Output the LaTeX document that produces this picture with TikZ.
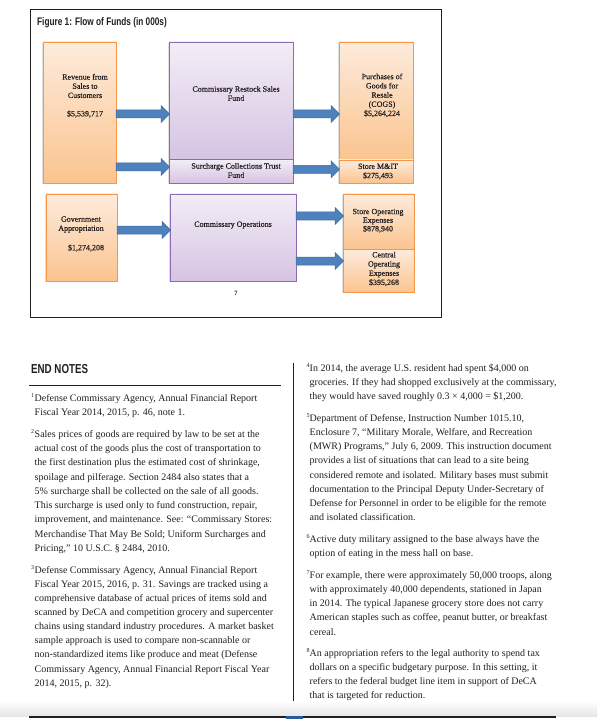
\documentclass[tikz,border=0pt]{standalone}
\usepackage{fontspec}
\setmainfont{Liberation Serif}
\newfontfamily\condfont[FakeStretch=0.75]{Liberation Sans}
\newfontfamily\boxfont[FakeBold=0.5]{Liberation Serif}
\usetikzlibrary{calc,shadows}
\definecolor{ink}{HTML}{231F20}
\definecolor{oborder}{HTML}{F79646}
\definecolor{otop}{HTML}{FDEBDC}
\definecolor{obot}{HTML}{FBC48F}
\definecolor{pborder}{HTML}{8E6AB4}
\definecolor{ptop}{HTML}{F3EDF7}
\definecolor{pbot}{HTML}{D6C4E2}
\definecolor{afill}{HTML}{4F81BD}
\definecolor{aborder}{HTML}{3A6CA3}
\definecolor{markblue}{HTML}{2A5A9A}
\tikzset{
  basebox/.style={anchor=north west, inner sep=0pt, outer sep=0pt, line width=0.8pt,
    drop shadow={shadow xshift=-0.6pt, shadow yshift=-0.6pt, fill=black, opacity=0.12}},
  obox/.style={basebox, draw=oborder, top color=otop, bottom color=obot},
  pbox/.style={basebox, draw=pborder, top color=ptop, bottom color=pbot},
  boxtext/.style={font=\boxfont\fontsize{8}{9.2}\selectfont, align=center, text=ink, inner sep=0pt},
  arrowshape/.style={fill=afill, draw=aborder, line width=0.5pt, line join=miter},
  noteline/.style={anchor=base west, inner sep=0pt, font=\fontsize{10}{12}\selectfont, text=ink},
  supnum/.style={anchor=base west, inner sep=0pt, font=\fontsize{6}{6}\selectfont, text=ink},
  heading/.style={anchor=base west, inner sep=0pt, text=ink},
  rulestyle/.style={draw=ink}
}
\newcommand\flowarrow[3]{%
  \path[arrowshape] let \p1=(#1.east), \p2=(#2.west), \p3=(0,#3) in
    (\x1,\y3+4pt) -- (\x2-8pt,\y3+4pt) -- (\x2-8pt,\y3+8.5pt) -- (\x2+0.5pt,\y3)
    -- (\x2-8pt,\y3-8.5pt) -- (\x2-8pt,\y3-4pt) -- (\x1,\y3-4pt) -- cycle;}
\newcommand\enl[4]{\node[noteline] (#1) at (#2,#3) {#4};}
\newcommand\ensup[4]{\node[supnum] (#1) at (#2,#3) {#4};}
\begin{document}
\begin{tikzpicture}[x=1pt,y=-1pt]
\useasboundingbox (0,0) rectangle (597,719);
\fill[white] (0,0) rectangle (597,719);

% frame and title
\draw[rulestyle, line width=1pt] (30,9.5) rectangle (441,317);
\node[heading, font=\condfont\bfseries\fontsize{11}{13}\selectfont] (title) at (37,26) {Figure 1: Flow of Funds (in 000s)};

% boxes
\node[obox, minimum width=73pt, minimum height=141pt] (rev) at (43,42) {};
\node[pbox, minimum width=124pt, minimum height=117.5pt] (restock) at (169,42) {};
\node[pbox, minimum width=124pt, minimum height=23.5pt] (surch) at (169,159.5) {};
\node[obox, minimum width=74pt, minimum height=118pt] (purch) at (339,42) {};
\node[obox, minimum width=74pt, minimum height=23pt] (mit) at (339,160) {};
\node[obox, minimum width=71pt, minimum height=87pt] (gov) at (46,194) {};
\node[pbox, minimum width=126pt, minimum height=87pt] (ops) at (170,194) {};
\node[obox, minimum width=71pt, minimum height=55pt] (sopex) at (343,194) {};
\node[obox, minimum width=71pt, minimum height=43pt] (cent) at (343,249) {};

% box texts
\node[boxtext] (revt) at (85,86) {Revenue from\\Sales to\\Customers};
\node[boxtext] (reva) at (85,114) {\$5,539,717};
\node[boxtext] (restockt) at (236,93.5) {Commissary Restock Sales\\Fund};
\node[boxtext] (purcht) at (382,95.4) {Purchases of\\Goods for\\Resale\\(COGS)\\\$5,264,224};
\node[boxtext] (surcht) at (236,170.5) {Surcharge Collections Trust\\Fund};
\node[boxtext] (mitt) at (378,171.5) {Store M\&IT\\\$275,493};
\node[boxtext] (govt) at (81,224.5) {Government\\Appropriation};
\node[boxtext] (gova) at (86,248) {\$1,274,208};
\node[boxtext] (opst) at (233,225) {Commissary Operations};
\node[boxtext, font=\boxfont\fontsize{8}{8.6}\selectfont] (sopext) at (378,220.7) {Store Operating\\Expenses\\\$878,940};
\node[boxtext] (centt) at (384,269) {Central\\Operating\\Expenses\\\$395,268};
\node[boxtext, font=\bfseries\fontsize{6.5}{7}\selectfont] (pnum) at (236,293) {7};

% arrows
\flowarrow{rev}{restock}{114}
\flowarrow{restock}{purch}{114}
\flowarrow{rev}{surch}{167}
\flowarrow{surch}{mit}{169.3}
\flowarrow{gov}{ops}{230}
\flowarrow{ops}{sopex}{216}
\flowarrow{ops}{cent}{261}

% END NOTES
\node[heading, font=\condfont\bfseries\fontsize{13}{15}\selectfont] (endnotes) at (31,373) {END NOTES};
\coordinate (r1a) at (29,385);
\coordinate (r1b) at (281,385);
\draw[rulestyle, line width=0.9pt] (r1a) -- (r1b);
\coordinate (vta) at (293,363);
\coordinate (vtb) at (293,707);
\draw[rulestyle, line width=0.6pt] (vta) -- (vtb);

% left column
\ensup{s1}{31}{397.8}{1}
\enl{a1}{34.5}{401.3}{Defense Commissary Agency, Annual Financial Report}
\enl{a2}{34.5}{415.5}{Fiscal Year 2014, 2015, p. 46, note 1.}
\ensup{s2}{31}{433.8}{2}
\enl{b1}{34.5}{437.3}{Sales prices of goods are required by law to be set at the}
\enl{b2}{34.5}{451.5}{actual cost of the goods plus the cost of transportation to}
\enl{b3}{34.5}{465.8}{the first destination plus the estimated cost of shrinkage,}
\enl{b4}{34.5}{480}{spoilage and pilferage. Section 2484 also states that a}
\enl{b5}{34.5}{494.3}{5\% surcharge shall be collected on the sale of all goods.}
\enl{b6}{34.5}{508.5}{This surcharge is used only to fund construction, repair,}
\enl{b7}{34.5}{522.8}{improvement, and maintenance. See: “Commissary Stores:}
\enl{b8}{34.5}{537}{Merchandise That May Be Sold; Uniform Surcharges and}
\enl{b9}{34.5}{551.3}{Pricing,” 10 U.S.C. § 2484, 2010.}
\ensup{s3}{31}{569.8}{3}
\enl{c1}{34.5}{573.3}{Defense Commissary Agency, Annual Financial Report}
\enl{c2}{34.5}{587.4}{Fiscal Year 2015, 2016, p. 31. Savings are tracked using a}
\enl{c3}{34.5}{601.5}{comprehensive database of actual prices of items sold and}
\enl{c4}{34.5}{615.6}{scanned by DeCA and competition grocery and supercenter}
\enl{c5}{34.5}{629.7}{chains using standard industry procedures. A market basket}
\enl{c6}{34.5}{643.8}{sample approach is used to compare non-scannable or}
\enl{c7}{34.5}{657.9}{non-standardized items like produce and meat (Defense}
\enl{c8}{34.5}{672}{Commissary Agency, Annual Financial Report Fiscal Year}
\enl{c9}{34.5}{686.1}{2014, 2015, p. 32).}

% right column
\ensup{s4}{306.5}{367.8}{4}
\enl{d1}{309.5}{371.3}{In 2014, the average U.S. resident had spent \$4,000 on}
\enl{d2}{309.5}{385.5}{groceries. If they had shopped exclusively at the commissary,}
\enl{d3}{309.5}{399.8}{they would have saved roughly 0.3 × 4,000 = \$1,200.}
\ensup{s5}{306.5}{417.8}{5}
\enl{e1}{309.5}{421.3}{Department of Defense, Instruction Number 1015.10,}
\enl{e2}{309.5}{435.5}{Enclosure 7, “Military Morale, Welfare, and Recreation}
\enl{e3}{309.5}{449.7}{(MWR) Programs,” July 6, 2009. This instruction document}
\enl{e4}{309.5}{463.9}{provides a list of situations that can lead to a site being}
\enl{e5}{309.5}{478.1}{considered remote and isolated. Military bases must submit}
\enl{e6}{309.5}{492.3}{documentation to the Principal Deputy Under-Secretary of}
\enl{e7}{309.5}{506.5}{Defense for Personnel in order to be eligible for the remote}
\enl{e8}{309.5}{520.7}{and isolated classification.}
\ensup{s6}{306.5}{538.8}{6}
\enl{f1}{309.5}{542.3}{Active duty military assigned to the base always have the}
\enl{f2}{309.5}{556.5}{option of eating in the mess hall on base.}
\ensup{s7}{306.5}{574.8}{7}
\enl{g1}{309.5}{578.3}{For example, there were approximately 50,000 troops, along}
\enl{g2}{309.5}{592.5}{with approximately 40,000 dependents, stationed in Japan}
\enl{g3}{309.5}{606.7}{in 2014. The typical Japanese grocery store does not carry}
\enl{g4}{309.5}{620.9}{American staples such as coffee, peanut butter, or breakfast}
\enl{g5}{309.5}{635.1}{cereal.}
\ensup{s8}{306.5}{652.8}{8}
\enl{h1}{309.5}{656.3}{An appropriation refers to the legal authority to spend tax}
\enl{h2}{309.5}{670.5}{dollars on a specific budgetary purpose. In this setting, it}
\enl{h3}{309.5}{684.7}{refers to the federal budget line item in support of DeCA}
\enl{h4}{309.5}{698.9}{that is targeted for reduction.}

% bottom band and rule
\shade[top color=white, bottom color=black!10] (0,701) rectangle (597,716.4);
\coordinate (r2a) at (29,717);
\coordinate (r2b) at (556,717);
\draw[rulestyle, line width=1.2pt] (r2a) -- (r2b);
\fill[markblue] (286,715.6) rectangle (303,719);
\end{tikzpicture}
\end{document}
